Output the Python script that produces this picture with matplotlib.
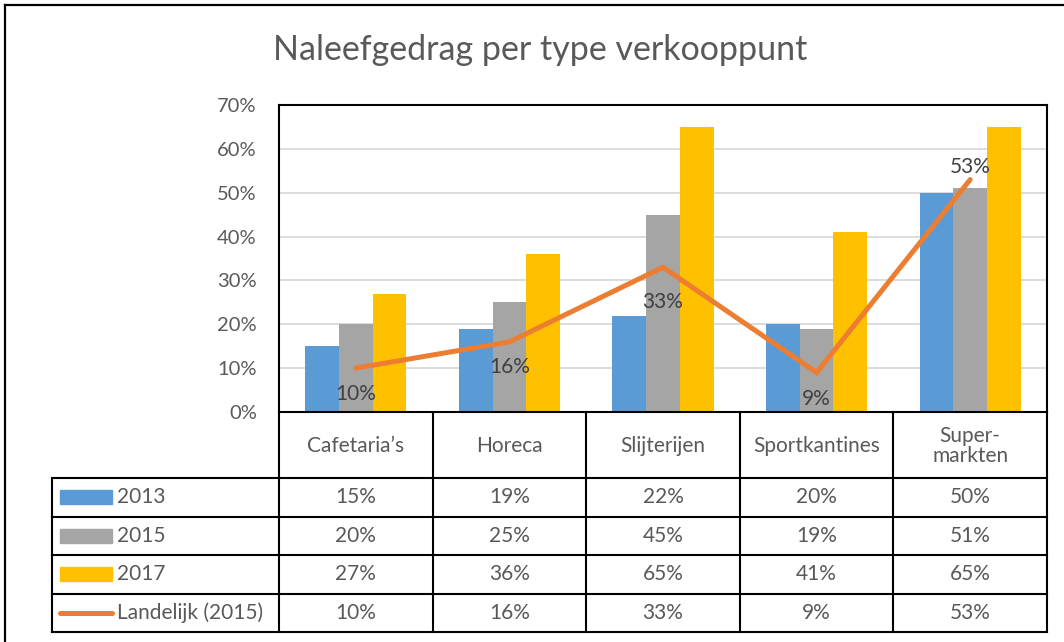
import matplotlib
matplotlib.use("Agg")
import matplotlib.pyplot as plt
import numpy as np

plt.rcParams['font.family'] = ['Lato', 'DejaVu Sans']

# data
categorieen = ["Cafetaria’s", "Horeca", "Slijterijen", "Sportkantines", "Super-\nmarkten"]
jaar_2013 = [15, 19, 22, 20, 50]
jaar_2015 = [20, 25, 45, 19, 51]
jaar_2017 = [27, 36, 65, 41, 65]
landelijk_2015 = [10, 16, 33, 9, 53]
reeks_namen = ["2013", "2015", "2017", "Landelijk (2015)"]
y_ticks = [0, 10, 20, 30, 40, 50, 60, 70]

kleur_blauw = "#5B9BD5"
kleur_grijs = "#A5A5A5"
kleur_geel = "#FFC000"
kleur_oranje = "#ED7D31"
tekst_grijs = "#595959"

W, H = 1064, 642
fig = plt.figure(figsize=(W / 100, H / 100), dpi=100)

# plot area in pixels
px_left, px_right, px_top, px_bottom = 279, 1047, 105, 412
ax = fig.add_axes([px_left / W, 1 - px_bottom / H,
                   (px_right - px_left) / W, (px_bottom - px_top) / H])

x = np.arange(len(categorieen))
bw = 0.22
ax.bar(x - bw, jaar_2013, bw, color=kleur_blauw, zorder=2)
ax.bar(x, jaar_2015, bw, color=kleur_grijs, zorder=2)
ax.bar(x + bw, jaar_2017, bw, color=kleur_geel, zorder=2)
ax.plot(x, landelijk_2015, color=kleur_oranje, lw=3.6, solid_capstyle='round',
        solid_joinstyle='miter', zorder=3)

# data labels (offset in px, positive = below)
label_offsets = [26, 25, 35, 26, -13]
for xi, v, off in zip(x, landelijk_2015, label_offsets):
    ax.annotate(f"{v}%", (xi, v), xytext=(0, -off * 0.72), textcoords='offset points',
                ha='center', va='center', fontsize=15, color="#404040", zorder=4)

ax.set_xlim(-0.5, len(categorieen) - 0.5)
ax.set_ylim(0, 70)
ax.set_yticks(y_ticks)
ax.set_yticklabels([f"{t}%" for t in y_ticks], fontsize=14.5, color=tekst_grijs)
ax.tick_params(axis='y', length=0, pad=16)
ax.set_xticks([])
ax.grid(axis='y', color="#D9D9D9", lw=1.3, zorder=1)
for s in ax.spines.values():
    s.set_color("black")
    s.set_linewidth(1.5)

# overlay in pixel coordinates for title, table and outer border
ov = fig.add_axes([0, 0, 1, 1], zorder=5)
ov.set_xlim(0, W)
ov.set_ylim(H, 0)
ov.axis('off')
ov.patch.set_alpha(0)

ov.text(540, 50, "Naleefgedrag per type verkooppunt", ha='center', va='center',
        fontsize=24.5, color=tekst_grijs)

# outer chart border (only top and left visible)
ov.plot([5, W], [5, 5], color="black", lw=1.6)
ov.plot([5, 5], [5, H], color="black", lw=1.6)

kol_w = (px_right - px_left) / len(categorieen)
kol_grenzen = [px_left + i * kol_w for i in range(len(categorieen) + 1)]
kop_onder = 478
rij_h = (632 - kop_onder) / 4
rij_grenzen = [kop_onder + i * rij_h for i in range(5)]
tabel_links = 52
lw_t = 1.5

for xg in kol_grenzen:
    ov.plot([xg, xg], [px_bottom, rij_grenzen[-1]], color="black", lw=lw_t)
ov.plot([tabel_links, tabel_links], [kop_onder, rij_grenzen[-1]], color="black", lw=lw_t)
for yg in rij_grenzen:
    ov.plot([tabel_links, px_right], [yg, yg], color="black", lw=lw_t)

for i, cat in enumerate(categorieen):
    ov.text(px_left + (i + 0.5) * kol_w, (px_bottom + kop_onder) / 2 + 1, cat,
            ha='center', va='center', fontsize=15, color=tekst_grijs, linespacing=1.05)

reeksen = [jaar_2013, jaar_2015, jaar_2017, landelijk_2015]
kleuren = [kleur_blauw, kleur_grijs, kleur_geel, kleur_oranje]
for r, (naam, waarden, kl) in enumerate(zip(reeks_namen, reeksen, kleuren)):
    yc = rij_grenzen[r] + rij_h / 2
    if r < 3:
        ov.add_patch(plt.Rectangle((60, yc - 7), 52, 14, color=kl))
    else:
        ov.plot([60, 112], [yc, yc], color=kl, lw=3.6, solid_capstyle='round')
    ov.text(117, yc, naam, ha='left', va='center', fontsize=15, color=tekst_grijs)
    for i, v in enumerate(waarden):
        ov.text(px_left + (i + 0.5) * kol_w, yc, f"{v}%", ha='center', va='center',
                fontsize=15, color=tekst_grijs)

fig.savefig("out.png", dpi=100)
